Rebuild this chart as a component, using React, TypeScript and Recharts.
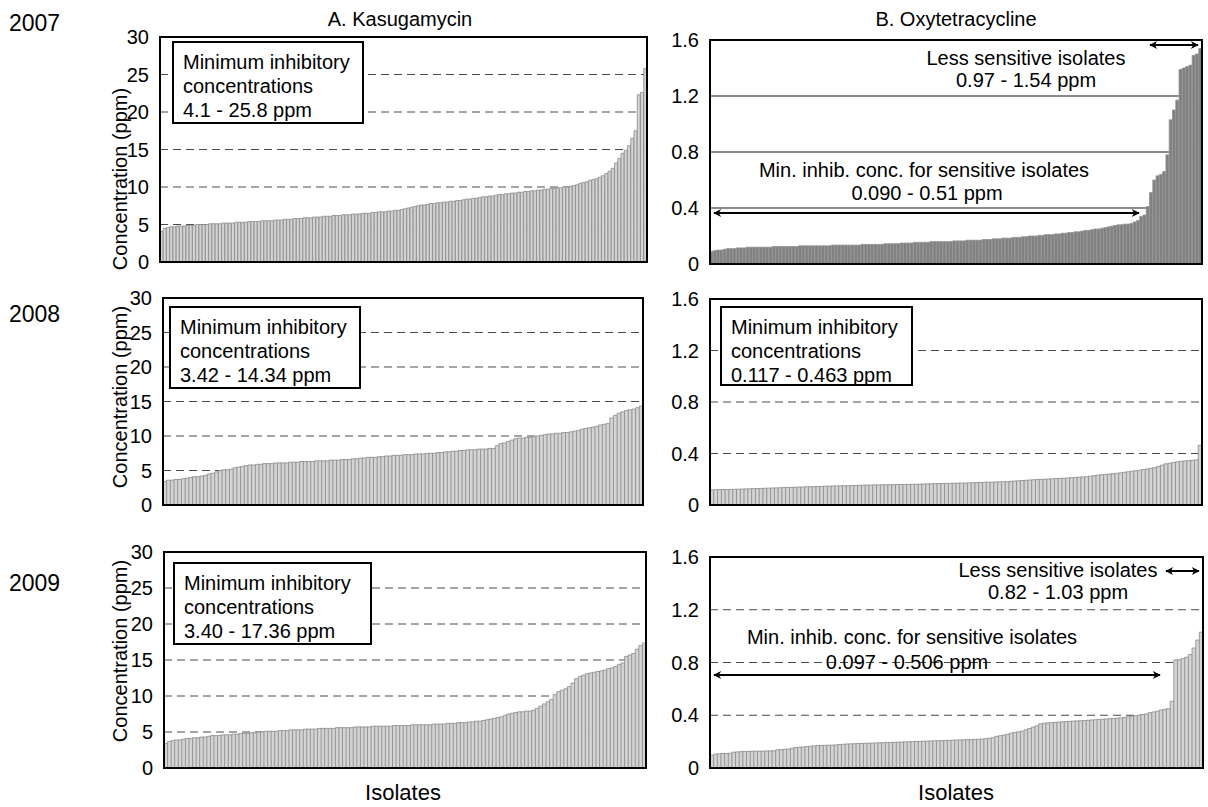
import React from 'react';
import { BarChart, Bar, XAxis, YAxis, CartesianGrid } from 'recharts';

const FONT = "'Liberation Sans', Arial, Helvetica, sans-serif";

const kasugamycinTicks = [0, 5, 10, 15, 20, 25, 30];
const oxytetracyclineTicks = [0, 0.4, 0.8, 1.2, 1.6];

// 2007 isolates, sorted MIC values (ppm)
const kasugamycin2007 = [
  4.1, 4.5, 4.6, 4.7, 4.7, 4.8, 4.8, 4.8, 4.9, 4.9,
  4.9, 5.0, 5.0, 5.0, 5.0, 5.1, 5.1, 5.1, 5.1, 5.2,
  5.2, 5.2, 5.2, 5.3, 5.3, 5.3, 5.3, 5.4, 5.4, 5.4,
  5.4, 5.5, 5.5, 5.5, 5.5, 5.6, 5.6, 5.6, 5.7, 5.7,
  5.7, 5.8, 5.8, 5.8, 5.9, 5.9, 5.9, 6.0, 6.0, 6.0,
  6.1, 6.1, 6.1, 6.2, 6.2, 6.2, 6.3, 6.3, 6.3, 6.4,
  6.4, 6.4, 6.5, 6.5, 6.5, 6.6, 6.6, 6.7, 6.7, 6.7,
  6.8, 6.8, 6.9, 6.9, 7.0, 7.1, 7.2, 7.3, 7.4, 7.5,
  7.6, 7.6, 7.7, 7.8, 7.8, 7.9, 7.9, 8.0, 8.0, 8.1,
  8.1, 8.2, 8.2, 8.3, 8.4, 8.4, 8.5, 8.5, 8.6, 8.7,
  8.7, 8.8, 8.8, 8.9, 9.0, 9.0, 9.1, 9.1, 9.2, 9.2,
  9.3, 9.3, 9.4, 9.4, 9.5, 9.5, 9.6, 9.6, 9.7, 9.7,
  9.8, 9.8, 9.9, 9.9, 10.0, 10.0, 10.1, 10.2, 10.3, 10.5,
  10.6, 10.7, 10.9, 11.0, 11.1, 11.3, 11.5, 11.8, 12.1, 12.5,
  13.2, 13.8, 14.5, 14.9, 15.5, 16.5, 17.5, 22.3, 22.6, 25.8,
];

const oxytetracycline2007 = [
  0.090, 0.095, 0.10, 0.10, 0.105, 0.11, 0.11, 0.11, 0.115, 0.115,
  0.115, 0.12, 0.12, 0.12, 0.12, 0.12, 0.12, 0.12, 0.12, 0.125,
  0.125, 0.125, 0.125, 0.125, 0.125, 0.125, 0.125, 0.13, 0.13, 0.13,
  0.13, 0.13, 0.13, 0.13, 0.13, 0.13, 0.13, 0.135, 0.135, 0.135,
  0.135, 0.135, 0.135, 0.135, 0.135, 0.135, 0.14, 0.14, 0.14, 0.14,
  0.14, 0.14, 0.14, 0.145, 0.145, 0.145, 0.145, 0.145, 0.15, 0.15,
  0.15, 0.15, 0.155, 0.155, 0.155, 0.155, 0.155, 0.16, 0.16, 0.16,
  0.16, 0.16, 0.16, 0.16, 0.165, 0.165, 0.165, 0.165, 0.17, 0.17,
  0.17, 0.17, 0.17, 0.175, 0.175, 0.175, 0.18, 0.18, 0.18, 0.185,
  0.185, 0.185, 0.19, 0.19, 0.19, 0.195, 0.195, 0.20, 0.20, 0.20,
  0.205, 0.205, 0.21, 0.21, 0.21, 0.215, 0.215, 0.22, 0.22, 0.225,
  0.225, 0.23, 0.23, 0.235, 0.24, 0.24, 0.245, 0.25, 0.25, 0.255,
  0.26, 0.265, 0.27, 0.275, 0.28, 0.28, 0.285, 0.285,
  0.29, 0.30, 0.31, 0.34, 0.35, 0.41, 0.51, 0.60, 0.63, 0.64,
  0.66, 0.78, 1.03, 1.10, 1.17, 1.39, 1.40, 1.41, 1.42, 1.49,
  1.50, 1.54,
];

// 2008 isolates
const kasugamycin2008 = [
  3.42, 3.6, 3.6, 3.7, 3.7, 3.8, 3.9, 4.0, 4.1, 4.1,
  4.2, 4.3, 4.5, 4.6, 4.8, 5.0, 5.1, 5.1, 5.2, 5.4,
  5.5, 5.6, 5.7, 5.8, 5.8, 5.9, 5.9, 6.0, 6.0, 6.0,
  6.1, 6.1, 6.1, 6.1, 6.2, 6.2, 6.2, 6.3, 6.3, 6.3,
  6.3, 6.4, 6.4, 6.4, 6.4, 6.5, 6.5, 6.5, 6.6, 6.6,
  6.6, 6.7, 6.7, 6.8, 6.8, 6.9, 6.9, 6.9, 7.0, 7.0,
  7.1, 7.1, 7.2, 7.2, 7.2, 7.3, 7.3, 7.3, 7.4, 7.4,
  7.4, 7.5, 7.5, 7.5, 7.6, 7.6, 7.7, 7.7, 7.8, 7.8,
  7.9, 7.9, 8.0, 8.0, 8.0, 8.1, 8.1, 8.1, 8.2, 8.2,
  8.6, 8.9, 9.0, 9.2, 9.4, 9.6, 9.7, 9.7, 9.8, 9.8,
  9.9, 10.0, 10.1, 10.2, 10.3, 10.3, 10.4, 10.4, 10.5, 10.5,
  10.6, 10.7, 10.8, 11.0, 11.1, 11.2, 11.3, 11.4, 11.6, 11.7,
  11.8, 12.6, 13.0, 13.3, 13.5, 13.7, 13.8, 13.9, 14.1, 14.34,
];

const oxytetracycline2008 = [
  0.117, 0.119, 0.12, 0.12, 0.12, 0.121, 0.122, 0.123, 0.124, 0.125,
  0.126, 0.127, 0.128, 0.129, 0.13, 0.131, 0.132, 0.133, 0.134, 0.135,
  0.136, 0.137, 0.138, 0.139, 0.14, 0.141, 0.142, 0.143, 0.144, 0.145,
  0.146, 0.147, 0.148, 0.148, 0.149, 0.15, 0.15, 0.151, 0.152, 0.153,
  0.154, 0.155, 0.155, 0.156, 0.156, 0.157, 0.157, 0.158, 0.158, 0.159,
  0.159, 0.16, 0.16, 0.161, 0.161, 0.162, 0.163, 0.164, 0.165, 0.166,
  0.167, 0.167, 0.168, 0.168, 0.169, 0.17, 0.17, 0.171, 0.172, 0.173,
  0.174, 0.175, 0.176, 0.177, 0.178, 0.179, 0.18, 0.181, 0.182, 0.184,
  0.186, 0.188, 0.19, 0.192, 0.194, 0.196, 0.198, 0.199, 0.2, 0.202,
  0.204, 0.206, 0.207, 0.208, 0.21, 0.212, 0.214, 0.216, 0.218, 0.22,
  0.224, 0.228, 0.232, 0.235, 0.238, 0.24, 0.243, 0.246, 0.25, 0.254,
  0.258, 0.262, 0.266, 0.27, 0.275, 0.28, 0.285, 0.29, 0.3, 0.31,
  0.32, 0.325, 0.33, 0.335, 0.34, 0.342, 0.345, 0.348, 0.35, 0.463,
];

// 2009 isolates
const kasugamycin2009 = [
  3.40, 3.7, 3.8, 3.9, 3.9, 4.0, 4.1, 4.1, 4.2, 4.2,
  4.3, 4.3, 4.4, 4.5, 4.5, 4.5, 4.6, 4.6, 4.6, 4.7,
  4.7, 4.8, 4.8, 4.8, 4.9, 4.9, 5.0, 5.0, 5.1, 5.1,
  5.1, 5.1, 5.2, 5.2, 5.2, 5.3, 5.3, 5.3, 5.3, 5.4,
  5.4, 5.4, 5.4, 5.5, 5.5, 5.5, 5.5, 5.5, 5.6, 5.6,
  5.6, 5.6, 5.6, 5.7, 5.7, 5.7, 5.7, 5.7, 5.8, 5.8,
  5.8, 5.8, 5.8, 5.8, 5.9, 5.9, 5.9, 5.9, 5.9, 6.0,
  6.0, 6.0, 6.0, 6.0, 6.0, 6.1, 6.1, 6.1, 6.1, 6.2,
  6.2, 6.2, 6.3, 6.3, 6.3, 6.4, 6.4, 6.5, 6.5, 6.6,
  6.7, 6.8, 6.9, 7.0, 7.1, 7.3, 7.5, 7.6, 7.7, 7.8,
  7.8, 7.9, 7.9, 8.0, 8.3, 8.6, 8.9, 9.2, 9.5, 10.2,
  10.6, 10.8, 11.0, 11.3, 11.8, 12.4, 12.7, 12.9, 13.1, 13.2,
  13.3, 13.4, 13.5, 13.6, 13.8, 13.9, 14.1, 14.4, 14.6, 15.5,
  15.7, 15.9, 16.5, 17.0, 17.36,
];

const oxytetracycline2009 = [
  0.097, 0.105, 0.108, 0.11, 0.11, 0.112, 0.12, 0.122, 0.124, 0.125,
  0.126, 0.127, 0.127, 0.128, 0.128, 0.129, 0.13, 0.13, 0.138, 0.14,
  0.142, 0.144, 0.15, 0.155, 0.158, 0.16, 0.162, 0.165, 0.168, 0.17,
  0.171, 0.172, 0.173, 0.174, 0.175, 0.178, 0.18, 0.182, 0.183, 0.184,
  0.185, 0.186, 0.187, 0.188, 0.189, 0.19, 0.191, 0.192, 0.193, 0.194,
  0.195, 0.196, 0.197, 0.198, 0.199, 0.2, 0.201, 0.202, 0.203, 0.204,
  0.205, 0.206, 0.207, 0.208, 0.209, 0.21, 0.211, 0.212, 0.213, 0.214,
  0.215, 0.216, 0.217, 0.218, 0.22, 0.222, 0.225, 0.23, 0.24, 0.245,
  0.25, 0.255, 0.265, 0.27, 0.275, 0.28, 0.29, 0.3, 0.31, 0.32,
  0.335, 0.34, 0.342, 0.344, 0.346, 0.348, 0.35, 0.352, 0.354, 0.356,
  0.357, 0.358, 0.36, 0.362, 0.364, 0.366, 0.368, 0.37, 0.372, 0.374,
  0.376, 0.378, 0.38, 0.384, 0.388, 0.392, 0.396, 0.4, 0.405, 0.41,
  0.42, 0.425, 0.43, 0.44, 0.445, 0.45, 0.506, 0.82, 0.82, 0.83,
  0.84, 0.86, 0.91, 0.97, 1.03,
];

type PanelProps = {
  values: number[];
  x: number;
  y: number;
  w: number;
  h: number;
  max: number;
  ticks: number[];
  fill: string;
  stroke: string;
  solidGrid?: boolean;
};

const AX = 70;
const PAD = 10;

function Panel({ values, x, y, w, h, max, ticks, fill, stroke, solidGrid }: PanelProps) {
  const rows = values.map((v, i) => ({ isolate: i + 1, v }));
  return (
    <>
      <div style={{ position: 'absolute', left: x - AX, top: y - PAD }}>
        <BarChart
          width={w + AX + PAD}
          height={h + 2 * PAD}
          data={rows}
          margin={{ top: PAD, right: PAD, bottom: PAD, left: 0 }}
          barCategoryGap={0}
          barGap={0}
        >
          <CartesianGrid
            vertical={false}
            stroke={solidGrid ? '#8c8c8c' : '#4a4a4a'}
            strokeWidth={solidGrid ? 2 : 1}
            strokeDasharray={solidGrid ? undefined : '8 5'}
          />
          <XAxis dataKey="isolate" hide />
          <YAxis
            width={AX}
            domain={[0, max]}
            ticks={ticks}
            interval={0}
            tickLine={false}
            axisLine={false}
            tickMargin={5}
            tick={{ fill: '#000', fontSize: 20, fontFamily: FONT }}
          />
          <Bar dataKey="v" fill={fill} stroke={stroke} strokeWidth={0.8} isAnimationActive={false} />
        </BarChart>
      </div>
      <div
        style={{
          position: 'absolute',
          left: x - 1,
          top: y - 1,
          width: w + 2,
          height: h + 2,
          border: '2px solid #000',
          boxSizing: 'border-box',
          pointerEvents: 'none',
        }}
      />
    </>
  );
}

const LIGHT = '#d4d4d4';
const LIGHT_STROKE = '#8a8a8a';

function MicBox({ x, y, w, h, lines }: { x: number; y: number; w: number; h: number; lines: string[] }) {
  return (
    <g>
      <rect x={x} y={y} width={w} height={h} fill="#fff" stroke="#000" strokeWidth={2} />
      {lines.map((t, i) => (
        <text key={i} x={x + 10} y={y + 27 + i * 24} fontSize={20} fontFamily={FONT} fill="#000">
          {t}
        </text>
      ))}
    </g>
  );
}

export default function App() {
  return (
    <div style={{ position: 'absolute', left: 0, top: 0, width: 1208, height: 807, background: '#fff', overflow: 'hidden' }}>
      <Panel values={kasugamycin2007} x={160} y={37} w={487} h={225} max={30} ticks={kasugamycinTicks} fill={LIGHT} stroke={LIGHT_STROKE} />
      <Panel values={oxytetracycline2007} x={710} y={40} w={492} h={224} max={1.6} ticks={oxytetracyclineTicks} fill="#808080" stroke="#939393" solidGrid />
      <Panel values={kasugamycin2008} x={163} y={298} w={480} h={207} max={30} ticks={kasugamycinTicks} fill={LIGHT} stroke={LIGHT_STROKE} />
      <Panel values={oxytetracycline2008} x={710} y={299} w={492} h={206} max={1.6} ticks={oxytetracyclineTicks} fill={LIGHT} stroke={LIGHT_STROKE} />
      <Panel values={kasugamycin2009} x={164} y={552} w={482} h={216} max={30} ticks={kasugamycinTicks} fill={LIGHT} stroke={LIGHT_STROKE} />
      <Panel values={oxytetracycline2009} x={710} y={557} w={493} h={211} max={1.6} ticks={oxytetracyclineTicks} fill={LIGHT} stroke={LIGHT_STROKE} />

      <svg width={1208} height={807} style={{ position: 'absolute', left: 0, top: 0, pointerEvents: 'none' }}>
        <defs>
          <marker id="ah" viewBox="0 0 10 10" refX="9" refY="5" markerWidth="11" markerHeight="8" markerUnits="userSpaceOnUse" orient="auto-start-reverse">
            <path d="M0,0 L10,5 L0,10 L3,5 z" fill="#000" />
          </marker>
        </defs>

        {/* column titles */}
        <text x={400} y={26} textAnchor="middle" fontSize={20} fontFamily={FONT}>A. Kasugamycin</text>
        <text x={956} y={26} textAnchor="middle" fontSize={20} fontFamily={FONT}>B. Oxytetracycline</text>

        {/* year labels */}
        <text x={9} y={31} fontSize={23} fontFamily={FONT}>2007</text>
        <text x={9} y={322} fontSize={23} fontFamily={FONT}>2008</text>
        <text x={9} y={591} fontSize={23} fontFamily={FONT}>2009</text>

        {/* y-axis titles */}
        <text transform="translate(120,179) rotate(-90)" textAnchor="middle" dominantBaseline="central" fontSize={20} fontFamily={FONT}>Concentration (ppm)</text>
        <text transform="translate(120,397) rotate(-90)" textAnchor="middle" dominantBaseline="central" fontSize={20} fontFamily={FONT}>Concentration (ppm)</text>
        <text transform="translate(120,651) rotate(-90)" textAnchor="middle" dominantBaseline="central" fontSize={20} fontFamily={FONT}>Concentration (ppm)</text>

        {/* x-axis titles */}
        <text x={403} y={800} textAnchor="middle" fontSize={22} fontFamily={FONT}>Isolates</text>
        <text x={956} y={800} textAnchor="middle" fontSize={22} fontFamily={FONT}>Isolates</text>

        {/* MIC boxes */}
        <MicBox x={173} y={42} w={190} h={81} lines={['Minimum inhibitory', 'concentrations', '4.1 - 25.8 ppm']} />
        <MicBox x={170} y={307} w={190} h={81} lines={['Minimum inhibitory', 'concentrations', '3.42 - 14.34 ppm']} />
        <MicBox x={174} y={563} w={197} h={81} lines={['Minimum inhibitory', 'concentrations', '3.40 - 17.36 ppm']} />
        <MicBox x={721} y={307} w={191} h={78} lines={['Minimum inhibitory', 'concentrations', '0.117 - 0.463 ppm']} />

        {/* 2007 oxytetracycline annotations */}
        <text x={1026} y={65} textAnchor="middle" fontSize={20} fontFamily={FONT}>Less sensitive isolates</text>
        <text x={1026} y={87} textAnchor="middle" fontSize={20} fontFamily={FONT}>0.97 - 1.54 ppm</text>
        <line x1={1150} y1={45} x2={1198} y2={45} stroke="#000" strokeWidth={2} markerStart="url(#ah)" markerEnd="url(#ah)" />
        <text x={924} y={177} textAnchor="middle" fontSize={20} fontFamily={FONT}>Min. inhib. conc. for sensitive isolates</text>
        <text x={927} y={200} textAnchor="middle" fontSize={20} fontFamily={FONT}>0.090 - 0.51 ppm</text>
        <line x1={714} y1={213} x2={1139} y2={213} stroke="#000" strokeWidth={2} markerStart="url(#ah)" markerEnd="url(#ah)" />

        {/* 2009 oxytetracycline annotations */}
        <text x={1058} y={577} textAnchor="middle" fontSize={20} fontFamily={FONT}>Less sensitive isolates</text>
        <text x={1058} y={599} textAnchor="middle" fontSize={20} fontFamily={FONT}>0.82 - 1.03 ppm</text>
        <line x1={1166} y1={571} x2={1199} y2={571} stroke="#000" strokeWidth={2} markerStart="url(#ah)" markerEnd="url(#ah)" />
        <text x={912} y={644} textAnchor="middle" fontSize={20} fontFamily={FONT}>Min. inhib. conc. for sensitive isolates</text>
        <text x={907} y={669} textAnchor="middle" fontSize={20} fontFamily={FONT}>0.097 - 0.506 ppm</text>
        <line x1={714} y1={675} x2={1160} y2={675} stroke="#000" strokeWidth={2} markerStart="url(#ah)" markerEnd="url(#ah)" />
      </svg>
    </div>
  );
}
